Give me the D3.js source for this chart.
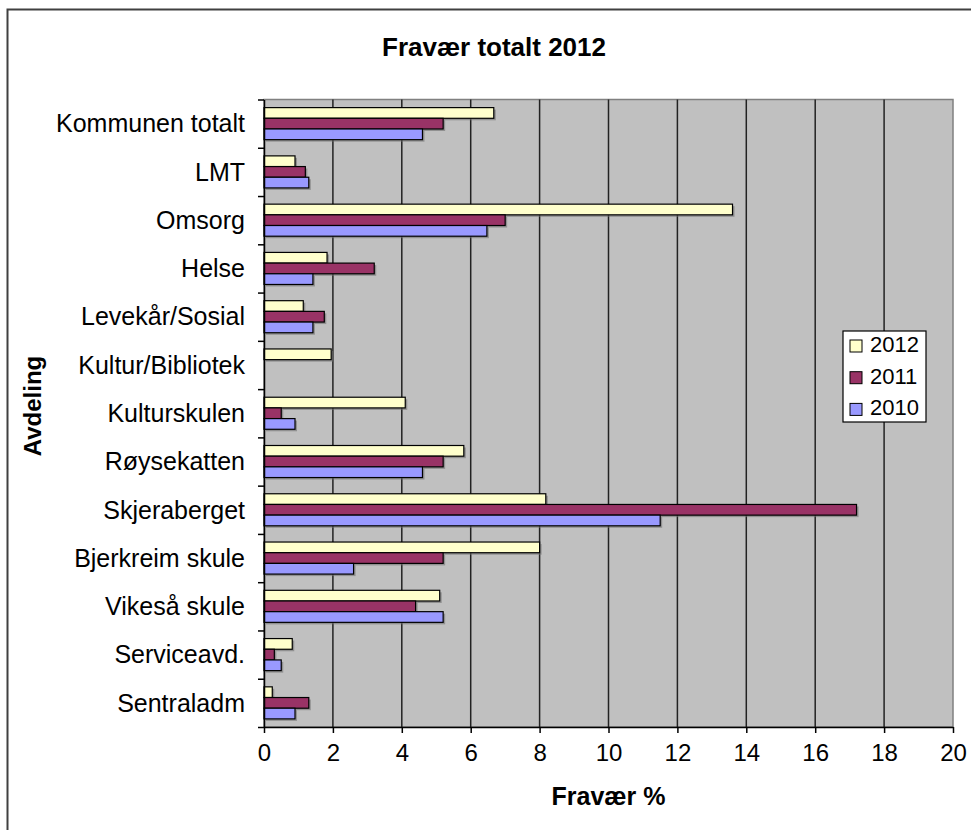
<!DOCTYPE html>
<html>
<head>
<meta charset="utf-8">
<script src="https://cdn.jsdelivr.net/npm/d3@7"></script>
<style>
  body { margin: 0; background: #fff; }
  text { font-family: "Liberation Sans", Arial, sans-serif; fill: #000; }
</style>
</head>
<body>
<div id="chart"></div>
<script>
// departments, top to bottom
const departments = ['Kommunen totalt', 'LMT', 'Omsorg', 'Helse', 'Levekår/Sosial',
  'Kultur/Bibliotek', 'Kulturskulen', 'Røysekatten', 'Skjeraberget',
  'Bjerkreim skule', 'Vikeså skule', 'Serviceavd.', 'Sentraladm'];
const years = ['2012', '2011', '2010'];
const values2012 = [6.67, 0.9, 13.6, 1.83, 1.14, 1.95, 4.1, 5.8, 8.18, 8.0, 5.1, 0.82, 0.24];
const values2011 = [5.2, 1.2, 7.0, 3.2, 1.75, null, 0.5, 5.2, 17.2, 5.2, 4.4, 0.3, 1.3];
const values2010 = [4.6, 1.3, 6.47, 1.42, 1.42, null, 0.9, 4.6, 11.5, 2.6, 5.2, 0.5, 0.9];
const xTicks = [0, 2, 4, 6, 8, 10, 12, 14, 16, 18, 20];
const colors = ['#ffffcc', '#993366', '#9999ff'];

const series = [values2012, values2011, values2010];

const width = 971, height = 830;
const plot = { left: 264, right: 953, top: 99.5, bottom: 727 };

const svg = d3.select('#chart').append('svg')
  .attr('width', width)
  .attr('height', height);

// outer chart border (only top/left visible in the crop)
svg.append('path')
  .attr('d', `M7.5,${height} V9.5 H${width}`)
  .attr('fill', 'none')
  .attr('stroke', '#404040')
  .attr('stroke-width', 2);

const x = d3.scaleLinear().domain([0, 20]).range([plot.left, plot.right]);
const y = d3.scaleBand().domain(departments)
  .range([plot.top, plot.bottom])
  .paddingInner(0.336)
  .paddingOuter(0.168);
const yInner = d3.scaleBand().domain(years).range([0, y.bandwidth()]);

// plot area
svg.append('rect')
  .attr('x', plot.left)
  .attr('y', plot.top)
  .attr('width', plot.right - plot.left)
  .attr('height', plot.bottom - plot.top)
  .attr('fill', '#c0c0c0')
  .attr('stroke', '#808080')
  .attr('stroke-width', 1.5);

// vertical gridlines
svg.append('g')
  .selectAll('line')
  .data(xTicks.slice(1, -1))
  .join('line')
  .attr('x1', d => x(d))
  .attr('x2', d => x(d))
  .attr('y1', plot.top)
  .attr('y2', plot.bottom)
  .attr('stroke', '#222')
  .attr('stroke-width', 1.5);

// bars
const groups = svg.append('g')
  .selectAll('g')
  .data(departments)
  .join('g')
  .attr('transform', d => `translate(0,${y(d)})`);

groups.each(function(dep, i) {
  const g = d3.select(this);
  years.forEach((yr, j) => {
    const v = series[j][i];
    if (v == null) return;
    // shadow
    g.append('rect')
      .attr('x', x(0) + 2)
      .attr('y', yInner(yr) + 2)
      .attr('width', x(v) - x(0))
      .attr('height', yInner.bandwidth())
      .attr('fill', '#707070')
      .attr('opacity', 0.6);
    g.append('rect')
      .attr('x', x(0))
      .attr('y', yInner(yr))
      .attr('width', x(v) - x(0))
      .attr('height', yInner.bandwidth())
      .attr('fill', colors[j])
      .attr('stroke', '#000')
      .attr('stroke-width', 1.2);
  });
});

// y axis with ticks on category boundaries
const yIdx = d3.scaleLinear().domain([0, departments.length]).range([plot.top, plot.bottom]);
svg.append('g')
  .attr('transform', `translate(${plot.left},0)`)
  .call(d3.axisLeft(yIdx).tickValues(d3.range(departments.length + 1)).tickFormat('').tickSize(6).tickSizeOuter(0))
  .call(g => g.selectAll('line, path').attr('stroke', '#000').attr('stroke-width', 1.5));

// category labels
svg.append('g')
  .selectAll('text')
  .data(departments)
  .join('text')
  .attr('x', 245)
  .attr('y', d => y(d) + y.bandwidth() / 2)
  .attr('dy', '0.35em')
  .attr('text-anchor', 'end')
  .style('font-size', '25px')
  .text(d => d);

// x axis
svg.append('g')
  .attr('transform', `translate(0,${plot.bottom})`)
  .call(d3.axisBottom(x).tickValues(xTicks).tickSize(6).tickSizeOuter(0).tickPadding(11))
  .call(g => g.selectAll('line, path').attr('stroke', '#000').attr('stroke-width', 1.5))
  .call(g => g.selectAll('text').style('font-size', '24px').style('font-family', '"Liberation Sans", Arial, sans-serif'));

// titles
svg.append('text')
  .attr('x', 494)
  .attr('y', 56)
  .attr('text-anchor', 'middle')
  .style('font-size', '26px')
  .style('font-weight', 'bold')
  .text('Fravær totalt 2012');

svg.append('text')
  .attr('x', (plot.left + plot.right) / 2)
  .attr('y', 805)
  .attr('text-anchor', 'middle')
  .style('font-size', '25px')
  .style('font-weight', 'bold')
  .text('Fravær %');

svg.append('text')
  .attr('transform', `translate(41,406) rotate(-90)`)
  .attr('text-anchor', 'middle')
  .style('font-size', '24px')
  .style('font-weight', 'bold')
  .text('Avdeling');

// legend
const legend = svg.append('g').attr('transform', 'translate(843,331)');
legend.append('rect')
  .attr('width', 83)
  .attr('height', 91)
  .attr('fill', '#fff')
  .attr('stroke', '#000')
  .attr('stroke-width', 1.2);

years.forEach((yr, j) => {
  const row = legend.append('g').attr('transform', `translate(0,${21 + j * 31.7})`);
  row.append('rect')
    .attr('x', 7)
    .attr('y', -12)
    .attr('width', 12)
    .attr('height', 12)
    .attr('fill', colors[j])
    .attr('stroke', '#000');
  row.append('text')
    .attr('x', 27)
    .attr('y', 0)
    .style('font-size', '22px')
    .text(yr);
});
</script>
</body>
</html>
